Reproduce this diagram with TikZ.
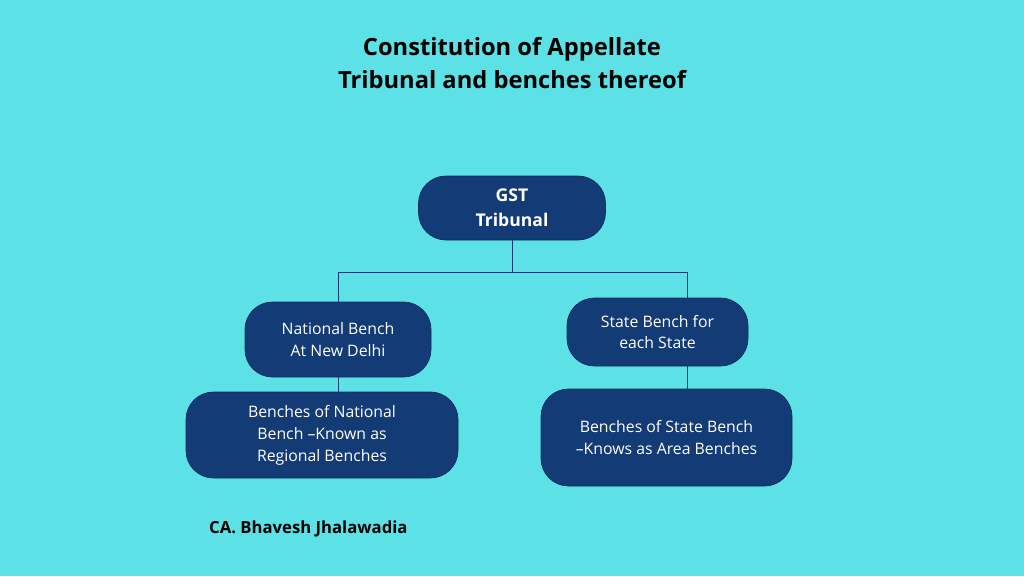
\documentclass[tikz,border=0pt]{standalone}
\usepackage{fontspec}
\setmainfont{Open Sans}
\usetikzlibrary{positioning}
\definecolor{bgcyan}{HTML}{5CE1E6}
\definecolor{boxblue}{HTML}{133B76}
\begin{document}
\begin{tikzpicture}
    [
    x=0.02cm, y=-0.02cm
    , box/.style = {draw=boxblue!80!black, fill=boxblue, text=white, rounded corners=0.55cm, align=center, inner sep=0pt, font=\fontsize{9}{12.5}\selectfont}
    , link/.style = {draw=boxblue, line width=0.5pt}
    ]
\fill[bgcyan] (0,0) rectangle (1024,576);
\useasboundingbox (0,0) rectangle (1024,576);

\node[font=\bfseries\fontsize{13.5}{18.5}\selectfont, align=center] (title) at (512,63) {Constitution of Appellate\\Tribunal and benches thereof};

\node[box, minimum width=187*0.02cm, minimum height=64*0.02cm, font=\bfseries\fontsize{10}{14}\selectfont] (gst) at (512,208) {GST\\Tribunal};
\node[box, minimum width=186*0.02cm, minimum height=75*0.02cm] (national) at (338,339.5) {National Bench\\At New Delhi};
\node[box, minimum width=181*0.02cm, minimum height=68*0.02cm] (state) at (657.5,332) {State Bench for\\each State};
\node[box, minimum width=272*0.02cm, minimum height=86*0.02cm] (regional) at (322,435) {Benches of National\\Bench –Known as\\Regional Benches};
\node[box, minimum width=251*0.02cm, minimum height=97*0.02cm] (area) at (666.5,437.5) {Benches of State Bench\\–Knows as Area Benches};

\coordinate (split) at (512,272);
\draw[link] (gst.south) -- (split);
\draw[link] (split) -| (national.north -| 338,0);
\draw[link] (split) -| (687,298) coordinate (stop);
\draw[link] (national.south) -- (regional.north -| national.south);
\draw[link] (687,366) coordinate (sbot) -- (687,389);

\node[font=\bfseries\fontsize{9.5}{12}\selectfont, anchor=west] (author) at (203,529) {CA. Bhavesh Jhalawadia};
\end{tikzpicture}
\end{document}
